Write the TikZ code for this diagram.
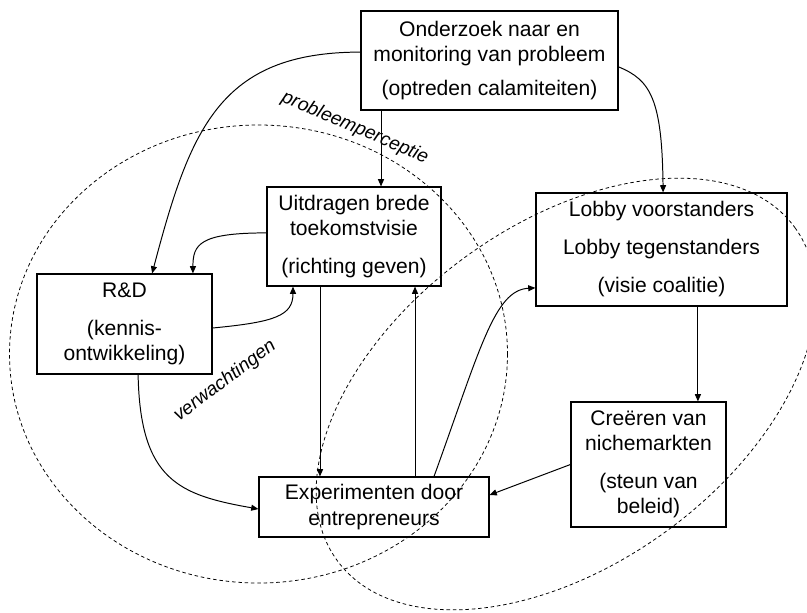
\documentclass[tikz,border=0pt]{standalone}
\usepackage{fontspec}
\setmainfont{Liberation Sans}
\usetikzlibrary{arrows.meta}

\begin{document}
\begin{tikzpicture}[
			x=0.025cm, y=-0.025cm,
			every node/.style={font=\fontsize{15}{18}\selectfont},
			box/.style={draw, rectangle, align=center, inner sep=0pt, line width=0.8pt},
			tag/.style={font=\fontsize{13.5}{16}\selectfont\itshape, inner sep=0pt},
			zone/.style={dash pattern=on 2.5pt off 2pt, line width=0.55pt},
			arrow/.style={-{Triangle[length=0.18cm, width=0.15cm]}, line width=0.7pt}
			]
			\useasboundingbox (0,0) rectangle (807,612);
			\clip (0,0) rectangle (807,612);
			
			% Zones
			\draw [zone] (258.5,354) ellipse [x radius=249, y radius=229];
			\draw [zone, rotate around={36:(566,394)}] (566,394) ellipse [x radius=283, y radius=170];
			
			% Nodes
			\node (onderzoek) [box, minimum width=6.425cm, minimum height=2.475cm] at (489.5,60.5) {Onderzoek naar en\\monitoring van probleem\\[6pt](optreden calamiteiten)};
			\node (uitdragen) [box, minimum width=4.35cm, minimum height=2.475cm] at (354,236.5) {Uitdragen brede\\toekomstvisie\\[9pt](richting geven)};
			\node (rd) [box, minimum width=4.375cm, minimum height=2.5cm] at (124.5,324) {R\&D\\[9pt](kennis-\\ontwikkeling)};
			\node (lobby) [box, minimum width=6.275cm, minimum height=2.825cm] at (661.5,249.5) {Lobby voorstanders\\[9pt]Lobby tegenstanders\\[9pt](visie coalitie)};
			\node (niche) [box, minimum width=3.875cm, minimum height=3.125cm] at (648.5,464.5) {Creëren van\\nichemarkten\\[9pt](steun van\\beleid)};
			\node (experiment) [box, minimum width=5.75cm, minimum height=1.5cm] at (374,507) {Experimenten door\\entrepreneurs};
			\node (perceptie) [tag, rotate=-23] at (355,128) {probleemperceptie};
			\node (verwachting) [tag, rotate=37] at (225,381) {verwachtingen};
			
			% Connections
			\draw [arrow] ([yshift=0.21cm]onderzoek.west) .. controls +(-141,0) and +(38,-144) .. ([xshift=0.69cm]rd.north);
			\draw [arrow] ([xshift=0.675cm]uitdragen.north |- onderzoek.south) -- ([xshift=0.675cm]uitdragen.north);
			\draw [arrow] ([yshift=-0.16cm]onderzoek.east) .. controls +(32,13) and +(-1,-93) .. ([xshift=0.04cm]lobby.north);
			\draw [arrow] ([yshift=0.09cm]uitdragen.west) .. controls +(-67,0) and +(0,-29) .. ([xshift=1.71cm]rd.north);
			\draw [arrow] ([yshift=-0.1cm]rd.east) .. controls +(63,-6) and +(0,29) .. ([xshift=-1.525cm]uitdragen.south);
			\draw [arrow] ([xshift=0.34cm]rd.south) .. controls +(2,106) and +(-79,-14) .. ([yshift=-0.05cm]experiment.west);
			\draw [arrow] ([xshift=-0.85cm]uitdragen.south) -- ([xshift=-0.85cm]uitdragen.south |- experiment.north);
			\draw [arrow] ([xshift=1.025cm]experiment.north) -- ([xshift=1.025cm]experiment.north |- uitdragen.south);
			\draw [arrow] ([xshift=1.5cm]experiment.north) .. controls +(46,-127) and +(-41,2) .. ([yshift=-0.96cm]lobby.west);
			\draw [arrow] ([xshift=0.91cm]lobby.south) -- ([xshift=0.91cm]lobby.south |- niche.north);
			\draw [arrow] (niche.west) -- ([yshift=0.3cm]experiment.east);
			
		\end{tikzpicture}
\end{document}
